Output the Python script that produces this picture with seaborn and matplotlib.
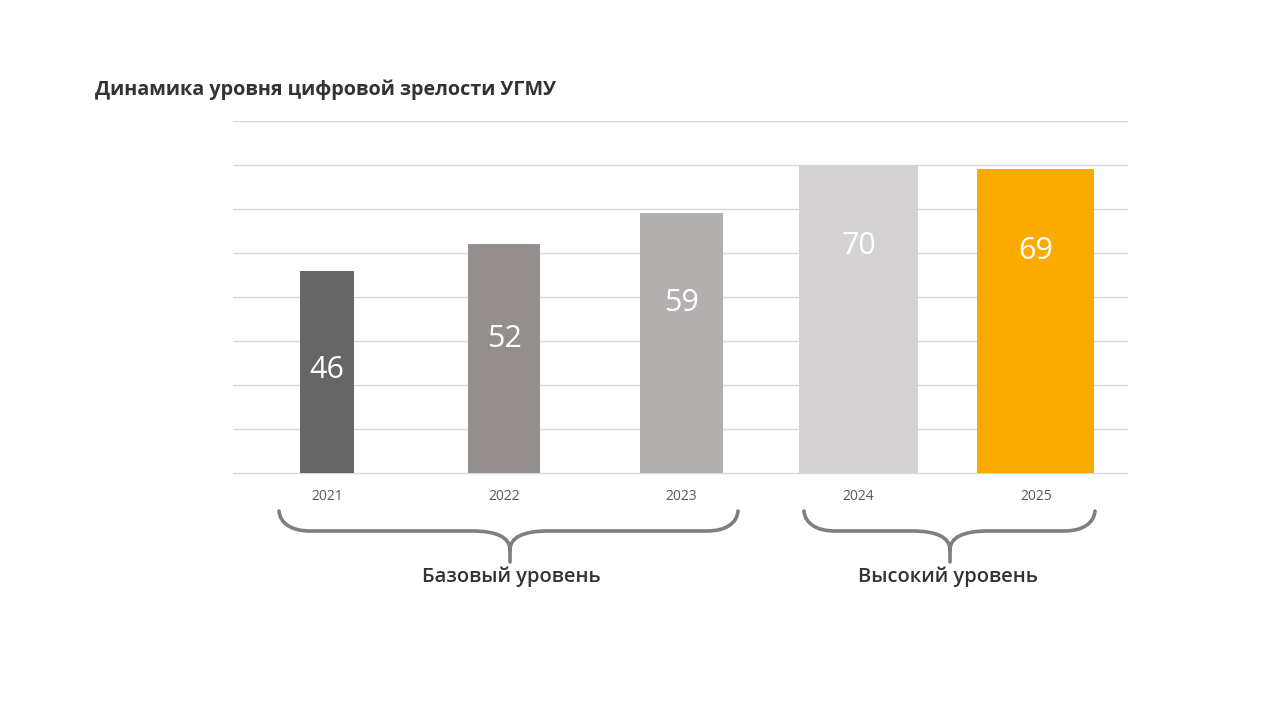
import matplotlib
matplotlib.use('Agg')
import matplotlib.pyplot as plt
from matplotlib.path import Path
from matplotlib.patches import PathPatch
import seaborn as sns
import pandas as pd

years = ['2021', '2022', '2023', '2024', '2025']
scores = [46, 52, 59, 70, 69]
groups = ['Базовый уровень', 'Высокий уровень']
title = 'Динамика уровня цифровой зрелости УГМУ'

colors = ['#666666', '#948e8d', '#b3afae', '#d4d2d2', '#fbab00']
widths = [0.30, 0.41, 0.47, 0.67, 0.66]

df = pd.DataFrame({'year': years, 'score': scores})

sns.set_theme(style='white')
plt.rcParams['font.family'] = ['Open Sans', 'DejaVu Sans']

fig = plt.figure(figsize=(12.8, 7.2), dpi=100)
# y range -1..80 -> 477..121 px
ax = fig.add_axes([233 / 1280, 1 - 477 / 720, (1128 - 233) / 1280, (477 - 121) / 720])

sns.barplot(data=df, x='year', y='score', hue='year', palette=colors,
            legend=False, ax=ax, saturation=1, zorder=3)

# bars have different widths in the original
for patch, w in zip(ax.patches, widths):
    cx = patch.get_x() + patch.get_width() / 2
    patch.set_x(cx - w / 2)
    patch.set_width(w)
    patch.set_linewidth(0)

ax.set_xlim(-0.53, 4.52)
ax.set_ylim(-0.9, 80)
ax.set_yticks(range(0, 81, 10))
ax.yaxis.grid(True, color='#d9d9d9', linewidth=1, zorder=0)
ax.set_yticklabels([])
ax.tick_params(axis='y', length=0)
ax.tick_params(axis='x', length=0, pad=9, labelsize=10, labelcolor='#595959')
ax.set_xlabel('')
ax.set_ylabel('')
for s in ax.spines.values():
    s.set_visible(False)

# value labels inside the bars
for i, v in enumerate(scores):
    ax.text(i, 1.175 * v - 30.7, str(v), ha='center', va='center',
            color='white', fontsize=22, zorder=4)

fig.text(95 / 1280, 1 - 90 / 720, title, ha='left', va='center',
         fontsize=14.2, fontweight='bold', color='#333333')

# overlay for braces and group captions (pixel coords)
ov = fig.add_axes([0, 0, 1, 1])
ov.set_xlim(0, 1280)
ov.set_ylim(720, 0)
ov.axis('off')
ov.patch.set_alpha(0)


def brace(x0, x1, xm, ytop=511, ymid=531, ybend=550, ytip=562):
    e, c = 31, 38
    verts = [(x0, ytop),
             (x0 + 1, ymid - 8), (x0 + 12, ymid), (x0 + e, ymid),
             (xm - c, ymid),
             (xm - 14, ymid), (xm, ymid + 6), (xm, ybend),
             (xm, ytip),
             (xm, ybend),
             (xm, ymid + 6), (xm + 14, ymid), (xm + c, ymid),
             (x1 - e, ymid),
             (x1 - 12, ymid), (x1 - 1, ymid - 8), (x1, ytop)]
    codes = [Path.MOVETO,
             Path.CURVE4, Path.CURVE4, Path.CURVE4,
             Path.LINETO,
             Path.CURVE4, Path.CURVE4, Path.CURVE4,
             Path.LINETO,
             Path.MOVETO,
             Path.CURVE4, Path.CURVE4, Path.CURVE4,
             Path.LINETO,
             Path.CURVE4, Path.CURVE4, Path.CURVE4]
    ov.add_patch(PathPatch(Path(verts, codes), fill=False,
                           edgecolor='#7f7f7f', linewidth=2.6, capstyle='round'))


brace(279, 738, 510)
brace(804, 1095, 950)

ov.text(511, 577, groups[0], ha='center', va='center', fontsize=14.5,
        fontweight='semibold', color='#333333')
ov.text(948, 577, groups[1], ha='center', va='center', fontsize=14.5,
        fontweight='semibold', color='#333333')

fig.savefig('out.png', dpi=100, facecolor='white')
